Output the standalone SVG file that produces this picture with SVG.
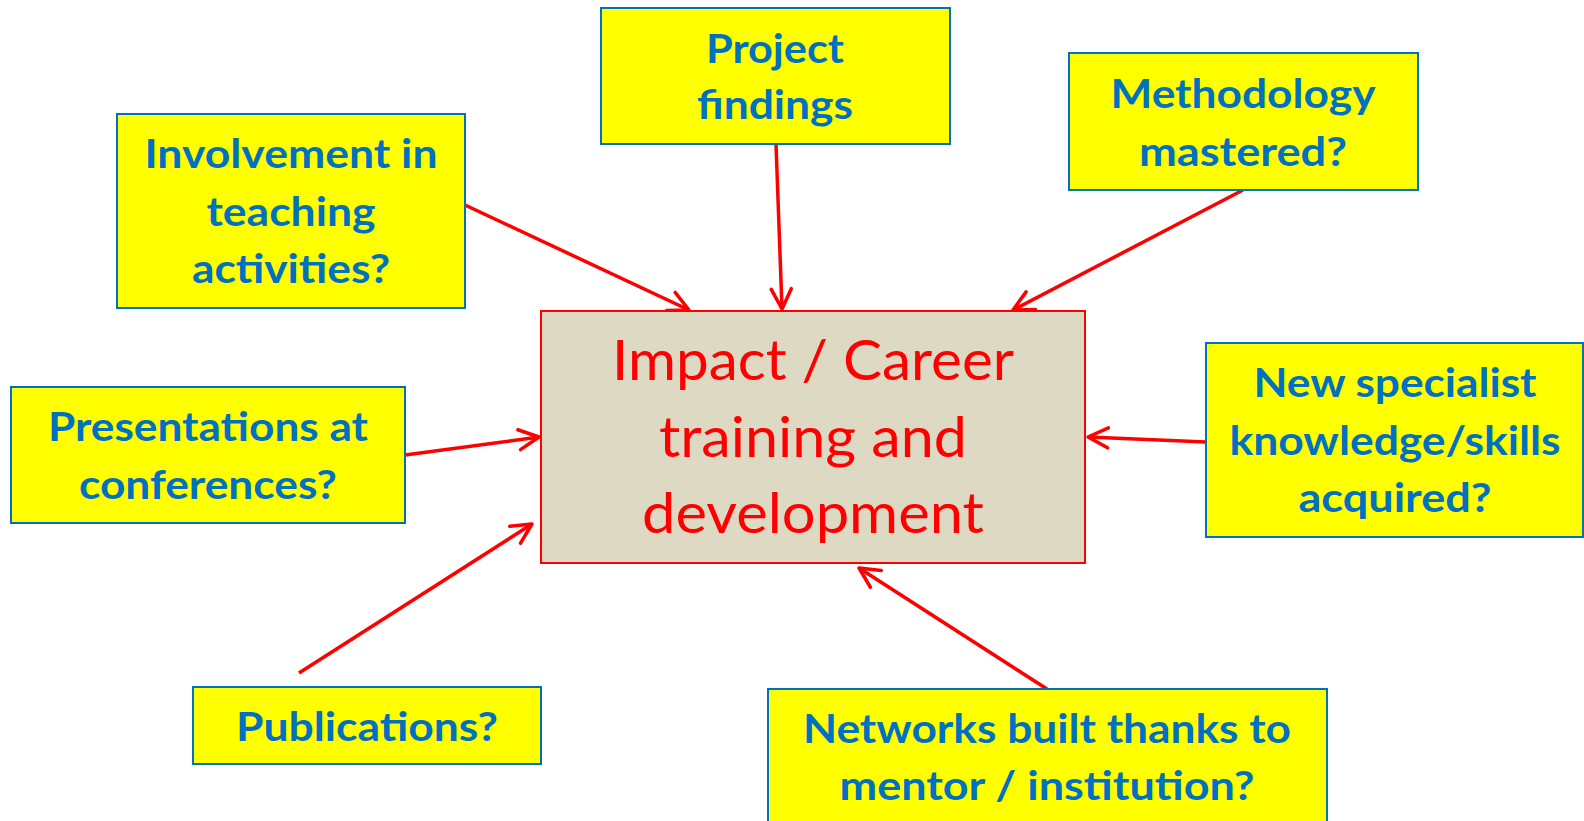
<svg xmlns="http://www.w3.org/2000/svg" width="1584" height="821" viewBox="0 0 1584 821">
<style>
.box{fill:#FFFF00;stroke:#0070C0;stroke-width:2}
.t{font-family:Lato,"Liberation Sans",sans-serif;font-weight:bold;font-size:40px;fill:#0070C0;text-anchor:middle}
.c{fill:#DDD9C3;stroke:#FF0000;stroke-width:2}
.ct{font-family:Lato,"Liberation Sans",sans-serif;font-size:56px;fill:#FF0000;text-anchor:middle}
.a{stroke:#FF0000;stroke-width:3.5;fill:none;marker-end:url(#ah)}
</style>
<defs>
<marker id="ah" viewBox="-2 -14 28 28" refX="22" refY="0" markerWidth="28" markerHeight="28" markerUnits="userSpaceOnUse" orient="auto">
<path d="M2,-10 L22,0 L2,10" fill="none" stroke="#FF0000" stroke-width="3.5" stroke-linecap="round" stroke-linejoin="round"/>
</marker>
</defs>
<rect width="1584" height="821" fill="#FFFFFF"/>
<g id="connectors">
<line class="a" x1="465" y1="205" x2="689" y2="310"/>
<line class="a" x1="776" y1="144" x2="782" y2="309"/>
<line class="a" x1="1243" y1="190" x2="1013" y2="310"/>
<line class="a" x1="405" y1="455" x2="539" y2="437"/>
<line class="a" x1="299" y1="673" x2="532" y2="524"/>
<line class="a" x1="1206" y1="442" x2="1088" y2="437"/>
<line class="a" x1="1047" y1="689" x2="859" y2="568"/>
</g>
<g id="center">
<rect class="c" x="541" y="311" width="544" height="252"/>
<text class="ct" x="813" y="380" textLength="402" lengthAdjust="spacingAndGlyphs">Impact / Career</text>
<text class="ct" x="813" y="457" textLength="308" lengthAdjust="spacingAndGlyphs">training and</text>
<text class="ct" x="813" y="533" textLength="342" lengthAdjust="spacingAndGlyphs">development</text>
</g>
<g id="project">
<rect class="box" x="601" y="8" width="349" height="136"/>
<text class="t" x="775" y="63" textLength="138" lengthAdjust="spacingAndGlyphs">Project</text>
<text class="t" x="775" y="119" textLength="156" lengthAdjust="spacingAndGlyphs">findings</text>
</g>
<g id="methodology">
<rect class="box" x="1069" y="53" width="349" height="137"/>
<text class="t" x="1243" y="108" textLength="265" lengthAdjust="spacingAndGlyphs">Methodology</text>
<text class="t" x="1243" y="166" textLength="208" lengthAdjust="spacingAndGlyphs">mastered?</text>
</g>
<g id="involvement">
<rect class="box" x="117" y="114" width="348" height="194"/>
<text class="t" x="291" y="168" textLength="293" lengthAdjust="spacingAndGlyphs">Involvement in</text>
<text class="t" x="291" y="226" textLength="169" lengthAdjust="spacingAndGlyphs">teaching</text>
<text class="t" x="291" y="283" textLength="198" lengthAdjust="spacingAndGlyphs">activities?</text>
</g>
<g id="presentations">
<rect class="box" x="11" y="387" width="394" height="136"/>
<text class="t" x="208" y="441" textLength="320" lengthAdjust="spacingAndGlyphs">Presentations at</text>
<text class="t" x="208" y="499" textLength="258" lengthAdjust="spacingAndGlyphs">conferences?</text>
</g>
<g id="publications">
<rect class="box" x="193" y="687" width="348" height="77"/>
<text class="t" x="367" y="741" textLength="262" lengthAdjust="spacingAndGlyphs">Publications?</text>
</g>
<g id="specialist">
<rect class="box" x="1206" y="343" width="377" height="194"/>
<text class="t" x="1395" y="397" textLength="283" lengthAdjust="spacingAndGlyphs">New specialist</text>
<text class="t" x="1395" y="455" textLength="331" lengthAdjust="spacingAndGlyphs">knowledge/skills</text>
<text class="t" x="1395" y="512" textLength="193" lengthAdjust="spacingAndGlyphs">acquired?</text>
</g>
<g id="networks">
<rect class="box" x="768" y="689" width="559" height="140"/>
<text class="t" x="1047" y="743" textLength="488" lengthAdjust="spacingAndGlyphs">Networks built thanks to</text>
<text class="t" x="1047" y="800" textLength="415" lengthAdjust="spacingAndGlyphs">mentor / institution?</text>
</g>
</svg>
